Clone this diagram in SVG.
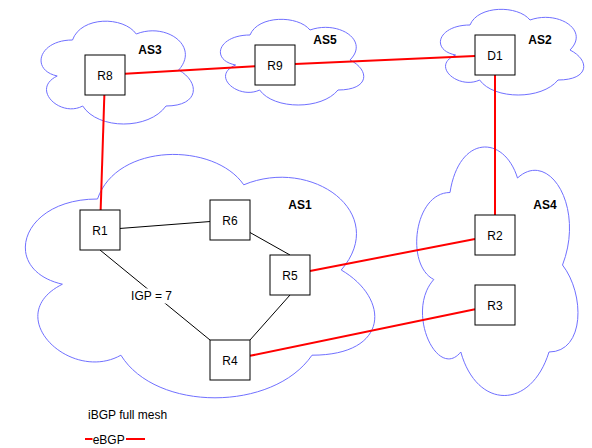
<svg xmlns="http://www.w3.org/2000/svg" width="592" height="448" viewBox="0 0 592 448">
<style>
.cloud{fill:#ffffff;stroke:#7070ff;stroke-width:1}
.as{font-family:"Liberation Sans",Arial,sans-serif;font-size:12px;font-weight:bold;fill:#000;text-anchor:middle}
.box{fill:#ffffff;stroke:#000000;stroke-width:1}
.lbl{font-family:"Liberation Sans",Arial,sans-serif;font-size:12px;fill:#000;text-anchor:middle}
.ebgp{stroke:#ff0000;stroke-width:2;fill:none}
.igp{stroke:#000000;stroke-width:1;fill:none}
.txt{font-family:"Liberation Sans",Arial,sans-serif;font-size:12px;fill:#000}
</style>
<rect width="592" height="448" fill="#ffffff"/>
<g id="clouds">
<g id="AS3"><path class="cloud" d="M72.5,40 C38.5,40 30,70 57.2,76 C30,89.2 60.6,118 82.7,106 C98,130 149,130 166,106 C200,106 200,82 178.75,70 C200,46 166,22 136.25,34 C123.5,16 81,16 72.5,40 Z"/><text class="as" x="150" y="54">AS3</text></g>
<g id="AS5"><path class="cloud" d="M250,35 C218,35 210,60 235.6,65 C210,76 238.8,100 259.6,90 C274,110 322,110 338,90 C370,90 370,70 350,60 C370,40 338,20 310,30 C298,15 258,15 250,35 Z"/><text class="as" x="325" y="44">AS5</text></g>
<g id="AS2"><path class="cloud" d="M470,25 C438,25 430,50 455.6,55 C430,66 458.8,90 479.6,80 C494,100 542,100 558,80 C590,80 590,60 570,50 C590,30 558,10 530,20 C518,5 478,5 470,25 Z"/><text class="as" x="540" y="44">AS2</text></g>
<g id="AS1"><path class="cloud" d="M97.5,199 C19.5,199 0,270 62.4,284.2 C0,315.44 70.2,383.6 120.9,355.2 C156,412 273,412 312,355.2 C390,355.2 390,298.4 341.25,270 C390,213.2 312,156.4 243.75,184.8 C214.5,142.2 117,142.2 97.5,199 Z"/><text class="as" x="300" y="209">AS1</text></g>
<g id="AS4"><path class="cloud" d="M450,192.5 C414,192.5 405,265 433.8,279.5 C405,311.4 437.4,381 460.8,352 C477,410 531,410 549,352 C585,352 585,294 562.5,265 C585,207 549,149 517.5,178 C504,134.5 459,134.5 450,192.5 Z"/><text class="as" x="545" y="209">AS4</text></g>
</g>
<g id="connectors">
<line class="ebgp" x1="125" y1="73.82" x2="255" y2="66.18"/>
<line class="ebgp" x1="295" y1="64.09" x2="475" y2="55.91"/>
<line class="ebgp" x1="104.35" y1="95" x2="100.65" y2="210"/>
<line class="ebgp" x1="495" y1="75" x2="495" y2="215"/>
<line class="ebgp" x1="310" y1="271.1" x2="475" y2="238.9"/>
<line class="ebgp" x1="250" y1="355.85" x2="475" y2="309.15"/>
<line class="igp" x1="120" y1="228.46" x2="210" y2="221.54"/>
<line class="igp" x1="250" y1="232.5" x2="290" y2="255"/>
<line class="igp" x1="100" y1="250" x2="210" y2="340"/>
<line class="igp" x1="290" y1="295" x2="250" y2="340"/>
<rect x="130" y="288.5" width="43" height="15" fill="#ffffff"/>
<text class="lbl" x="151.5" y="300">IGP = 7</text>
</g>
<g id="R8"><rect class="box" x="85" y="55" width="40" height="40"/><text class="lbl" x="105" y="79.5">R8</text></g>
<g id="R9"><rect class="box" x="255" y="45" width="40" height="40"/><text class="lbl" x="275" y="69.5">R9</text></g>
<g id="D1"><rect class="box" x="475" y="35" width="40" height="40"/><text class="lbl" x="495" y="59.5">D1</text></g>
<g id="R1"><rect class="box" x="80" y="210" width="40" height="40"/><text class="lbl" x="100" y="234.5">R1</text></g>
<g id="R6"><rect class="box" x="210" y="200" width="40" height="40"/><text class="lbl" x="230" y="224.5">R6</text></g>
<g id="R5"><rect class="box" x="270" y="255" width="40" height="40"/><text class="lbl" x="290" y="279.5">R5</text></g>
<g id="R4"><rect class="box" x="210" y="340" width="40" height="40"/><text class="lbl" x="230" y="364.5">R4</text></g>
<g id="R2"><rect class="box" x="475" y="215" width="40" height="40"/><text class="lbl" x="495" y="239.5">R2</text></g>
<g id="R3"><rect class="box" x="475" y="285" width="40" height="40"/><text class="lbl" x="495" y="309.5">R3</text></g>
<g id="legend">
<text class="txt" x="88" y="418.5">iBGP full mesh</text>
<line class="ebgp" x1="85" y1="439" x2="145" y2="439"/>
<rect x="92.5" y="432" width="33.5" height="14" fill="#ffffff"/>
<text class="txt" x="92.7" y="443.5">eBGP</text>
</g>
</svg>
